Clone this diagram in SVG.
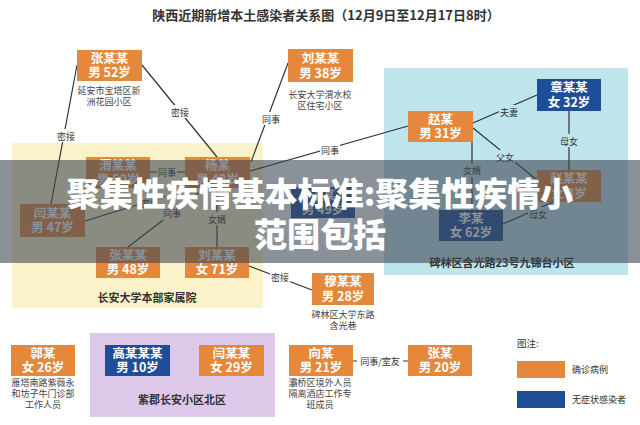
<svg xmlns="http://www.w3.org/2000/svg" width="640" height="425" viewBox="0 0 640 425">
<defs>
<style>
text{font-family:"Noto Sans CJK SC","Noto Sans",sans-serif;}
.o{fill:#E6883C;}
.b{fill:#1F4E98;}
.nt{fill:#fff;font-size:12.5px;font-weight:700;text-anchor:middle;}
.cap{fill:#444;font-size:9px;text-anchor:middle;}
.ln{stroke:#333;stroke-width:1.2;fill:none;}
.lb{fill:#333;font-size:9px;text-anchor:middle;dominant-baseline:central;}
.reg{fill:#333;font-size:11px;font-weight:700;text-anchor:middle;}
</style>
</defs>
<rect width="640" height="425" fill="#ffffff"/>
<text x="326" y="20" text-anchor="middle" font-size="13" font-weight="700" fill="#333">陕西近期新增本土感染者关系图（12月9日至12月17日8时）</text>

<g id="regions">
<rect x="12" y="143" width="251" height="165" fill="#FCF2C9"/>
<text class="reg" x="147" y="302">长安大学本部家属院</text>
<rect x="384" y="68" width="244" height="207" fill="#BEE4EC"/>
<text class="reg" x="502" y="267">碑林区含光路23号九锦台小区</text>
<rect x="90" y="333" width="185" height="84" fill="#DDC8EA"/>
<text class="reg" x="182" y="404" font-size="12.5">紫郡长安小区北区</text>
</g>

<g id="connectors">
<line class="ln" x1="77" y1="65" x2="51" y2="204"/>
<line class="ln" x1="142" y1="65" x2="217" y2="157"/>
<line class="ln" x1="288" y1="63" x2="251" y2="162"/>
<line class="ln" x1="408" y1="126" x2="250" y2="171"/>
<line class="ln" x1="150" y1="172" x2="185" y2="172"/>
<line class="ln" x1="85" y1="221" x2="192" y2="188"/>
<line class="ln" x1="128" y1="247" x2="205" y2="188"/>
<line class="ln" x1="217" y1="188" x2="217" y2="247"/>
<line class="ln" x1="249" y1="266" x2="312" y2="290"/>
<line class="ln" x1="473" y1="123" x2="537" y2="95"/>
<line class="ln" x1="473" y1="128" x2="537" y2="180"/>
<line class="ln" x1="472" y1="142" x2="472" y2="210"/>
<line class="ln" x1="569" y1="111" x2="569" y2="170"/>
<line class="ln" x1="503" y1="224" x2="553" y2="202"/>
<line class="ln" x1="352" y1="361" x2="408" y2="361"/>
<rect x="56" y="129" width="20" height="13" fill="#fff"/><text class="lb" x="66" y="136">密接</text>
<rect x="170" y="105" width="20" height="13" fill="#fff"/><text class="lb" x="180" y="112">密接</text>
<rect x="261" y="112" width="20" height="13" fill="#fff"/><text class="lb" x="271" y="119">同事</text>
<rect x="320" y="144" width="20" height="13" fill="#fff"/><text class="lb" x="330" y="150">同事</text>
<rect x="157" y="166" width="20" height="13" fill="#FCF2C9"/><text class="lb" x="167" y="172">同事</text>
<rect x="140" y="197" width="20" height="13" fill="#FCF2C9"/><text class="lb" x="150" y="203">密接</text>
<rect x="162" y="207" width="20" height="13" fill="#FCF2C9"/><text class="lb" x="172" y="213">同事</text>
<rect x="207" y="212" width="20" height="13" fill="#FCF2C9"/><text class="lb" x="217" y="219">女婿</text>
<rect x="270" y="270" width="20" height="13" fill="#fff"/><text class="lb" x="280" y="277">密接</text>
<rect x="499" y="105" width="20" height="13" fill="#BEE4EC"/><text class="lb" x="509" y="112">夫妻</text>
<rect x="495" y="150" width="20" height="13" fill="#BEE4EC"/><text class="lb" x="505" y="157">父女</text>
<rect x="462" y="164" width="20" height="13" fill="#BEE4EC"/><text class="lb" x="472" y="170">女婿</text>
<rect x="559" y="134" width="20" height="13" fill="#BEE4EC"/><text class="lb" x="569" y="141">母女</text>
<rect x="528" y="207" width="20" height="13" fill="#BEE4EC"/><text class="lb" x="538" y="214">母女</text>
<rect x="357" y="354" width="46" height="13" fill="#fff"/><text class="lb" x="380" y="361">同事/室友</text>
</g>

<g id="n1"><rect class="o" x="77" y="50" width="65" height="31"/><text class="nt" x="109.5" y="63">张某某</text><text class="nt" x="109.5" y="77">男 52岁</text>
<text class="cap" x="109" y="94">延安市宝塔区新</text><text class="cap" x="109" y="105">洲花园小区</text></g>
<g id="n2"><rect class="o" x="288" y="49" width="65" height="33"/><text class="nt" x="320.5" y="63">刘某某</text><text class="nt" x="320.5" y="78">男 38岁</text>
<text class="cap" x="320" y="98">长安大学渭水校</text><text class="cap" x="320" y="109">区住宅小区</text></g>
<g id="n3"><rect class="b" x="537" y="79" width="64" height="32"/><text class="nt" x="569" y="92">章某某</text><text class="nt" x="569" y="107">女 32岁</text></g>
<g id="n4"><rect class="o" x="408" y="111" width="65" height="31"/><text class="nt" x="440.5" y="124">赵某</text><text class="nt" x="440.5" y="138">男 31岁</text></g>
<g id="n5"><rect class="o" x="537" y="170" width="64" height="32"/><text class="nt" x="569" y="183">赵某某</text><text class="nt" x="569" y="198">女 3岁</text></g>
<g id="n6"><rect class="b" x="439" y="210" width="64" height="31"/><text class="nt" x="471" y="223">李某</text><text class="nt" x="471" y="237">女 62岁</text></g>
<g id="n7"><rect class="o" x="86" y="157" width="64" height="31"/><text class="nt" x="118" y="170">渭某某</text><text class="nt" x="118" y="184">男 50岁</text></g>
<g id="n8"><rect class="o" x="185" y="157" width="65" height="31"/><text class="nt" x="217.5" y="170">杨某</text><text class="nt" x="217.5" y="184">男 42岁</text></g>
<g id="n9"><rect class="o" x="20" y="204" width="65" height="33"/><text class="nt" x="52.5" y="218">闫某某</text><text class="nt" x="52.5" y="232">男 47岁</text></g>
<g id="n10"><rect class="b" x="291" y="187" width="64" height="31"/><text class="nt" x="323" y="200">王某</text><text class="nt" x="323" y="214">男 49岁</text></g>
<g id="n11"><rect class="o" x="96" y="247" width="64" height="31"/><text class="nt" x="128" y="260">张某某</text><text class="nt" x="128" y="274">男 48岁</text></g>
<g id="n12"><rect class="o" x="185" y="247" width="64" height="31"/><text class="nt" x="217" y="260">刘某某</text><text class="nt" x="217" y="274">女 71岁</text></g>
<g id="n13"><rect class="o" x="312" y="273" width="62" height="32"/><text class="nt" x="343" y="286">穆某某</text><text class="nt" x="343" y="301">男 28岁</text>
<text class="cap" x="343" y="318">碑林区大学东路</text><text class="cap" x="343" y="329">含光巷</text></g>
<g id="n14"><rect class="o" x="11" y="345" width="64" height="31"/><text class="nt" x="43" y="358">郭某</text><text class="nt" x="43" y="372">女 26岁</text>
<text class="cap" x="43" y="386">雁塔南路紫薇永</text><text class="cap" x="43" y="397">和坊子牛门诊部</text><text class="cap" x="43" y="408">工作人员</text></g>
<g id="n15"><rect class="b" x="105" y="345" width="65" height="31"/><text class="nt" x="137.5" y="358">高某某某</text><text class="nt" x="137.5" y="372">男 10岁</text></g>
<g id="n16"><rect class="o" x="199" y="345" width="65" height="31"/><text class="nt" x="231.5" y="358">闫某某</text><text class="nt" x="231.5" y="372">女 29岁</text></g>
<g id="n17"><rect class="o" x="289" y="345" width="64" height="31"/><text class="nt" x="321" y="358">向某</text><text class="nt" x="321" y="372">男 21岁</text>
<text class="cap" x="320" y="386">灞桥区境外人员</text><text class="cap" x="320" y="397">隔离酒店工作专</text><text class="cap" x="320" y="408">班成员</text></g>
<g id="n18"><rect class="o" x="408" y="345" width="64" height="31"/><text class="nt" x="440" y="358">张某</text><text class="nt" x="440" y="372">男 20岁</text></g>

<g id="legend">
<text x="517" y="347" font-size="9.5" fill="#333">图注:</text>
<rect class="o" x="517" y="361" width="48" height="17"/>
<text x="572" y="373" font-size="9" fill="#333">确诊病例</text>
<rect class="b" x="517" y="391" width="48" height="17"/>
<text x="572" y="403" font-size="9" fill="#333">无症状感染者</text>
</g>

<g id="banner">
<rect x="0" y="160" width="640" height="103" fill="#3E4853" fill-opacity="0.6"/>
<text x="320" y="206" text-anchor="middle" font-size="33" font-weight="900" fill="#fff">聚集性疾情基本标准:聚集性疾情小</text>
<text x="320" y="247" text-anchor="middle" font-size="33" font-weight="900" fill="#fff">范围包括</text>
</g>
</svg>
